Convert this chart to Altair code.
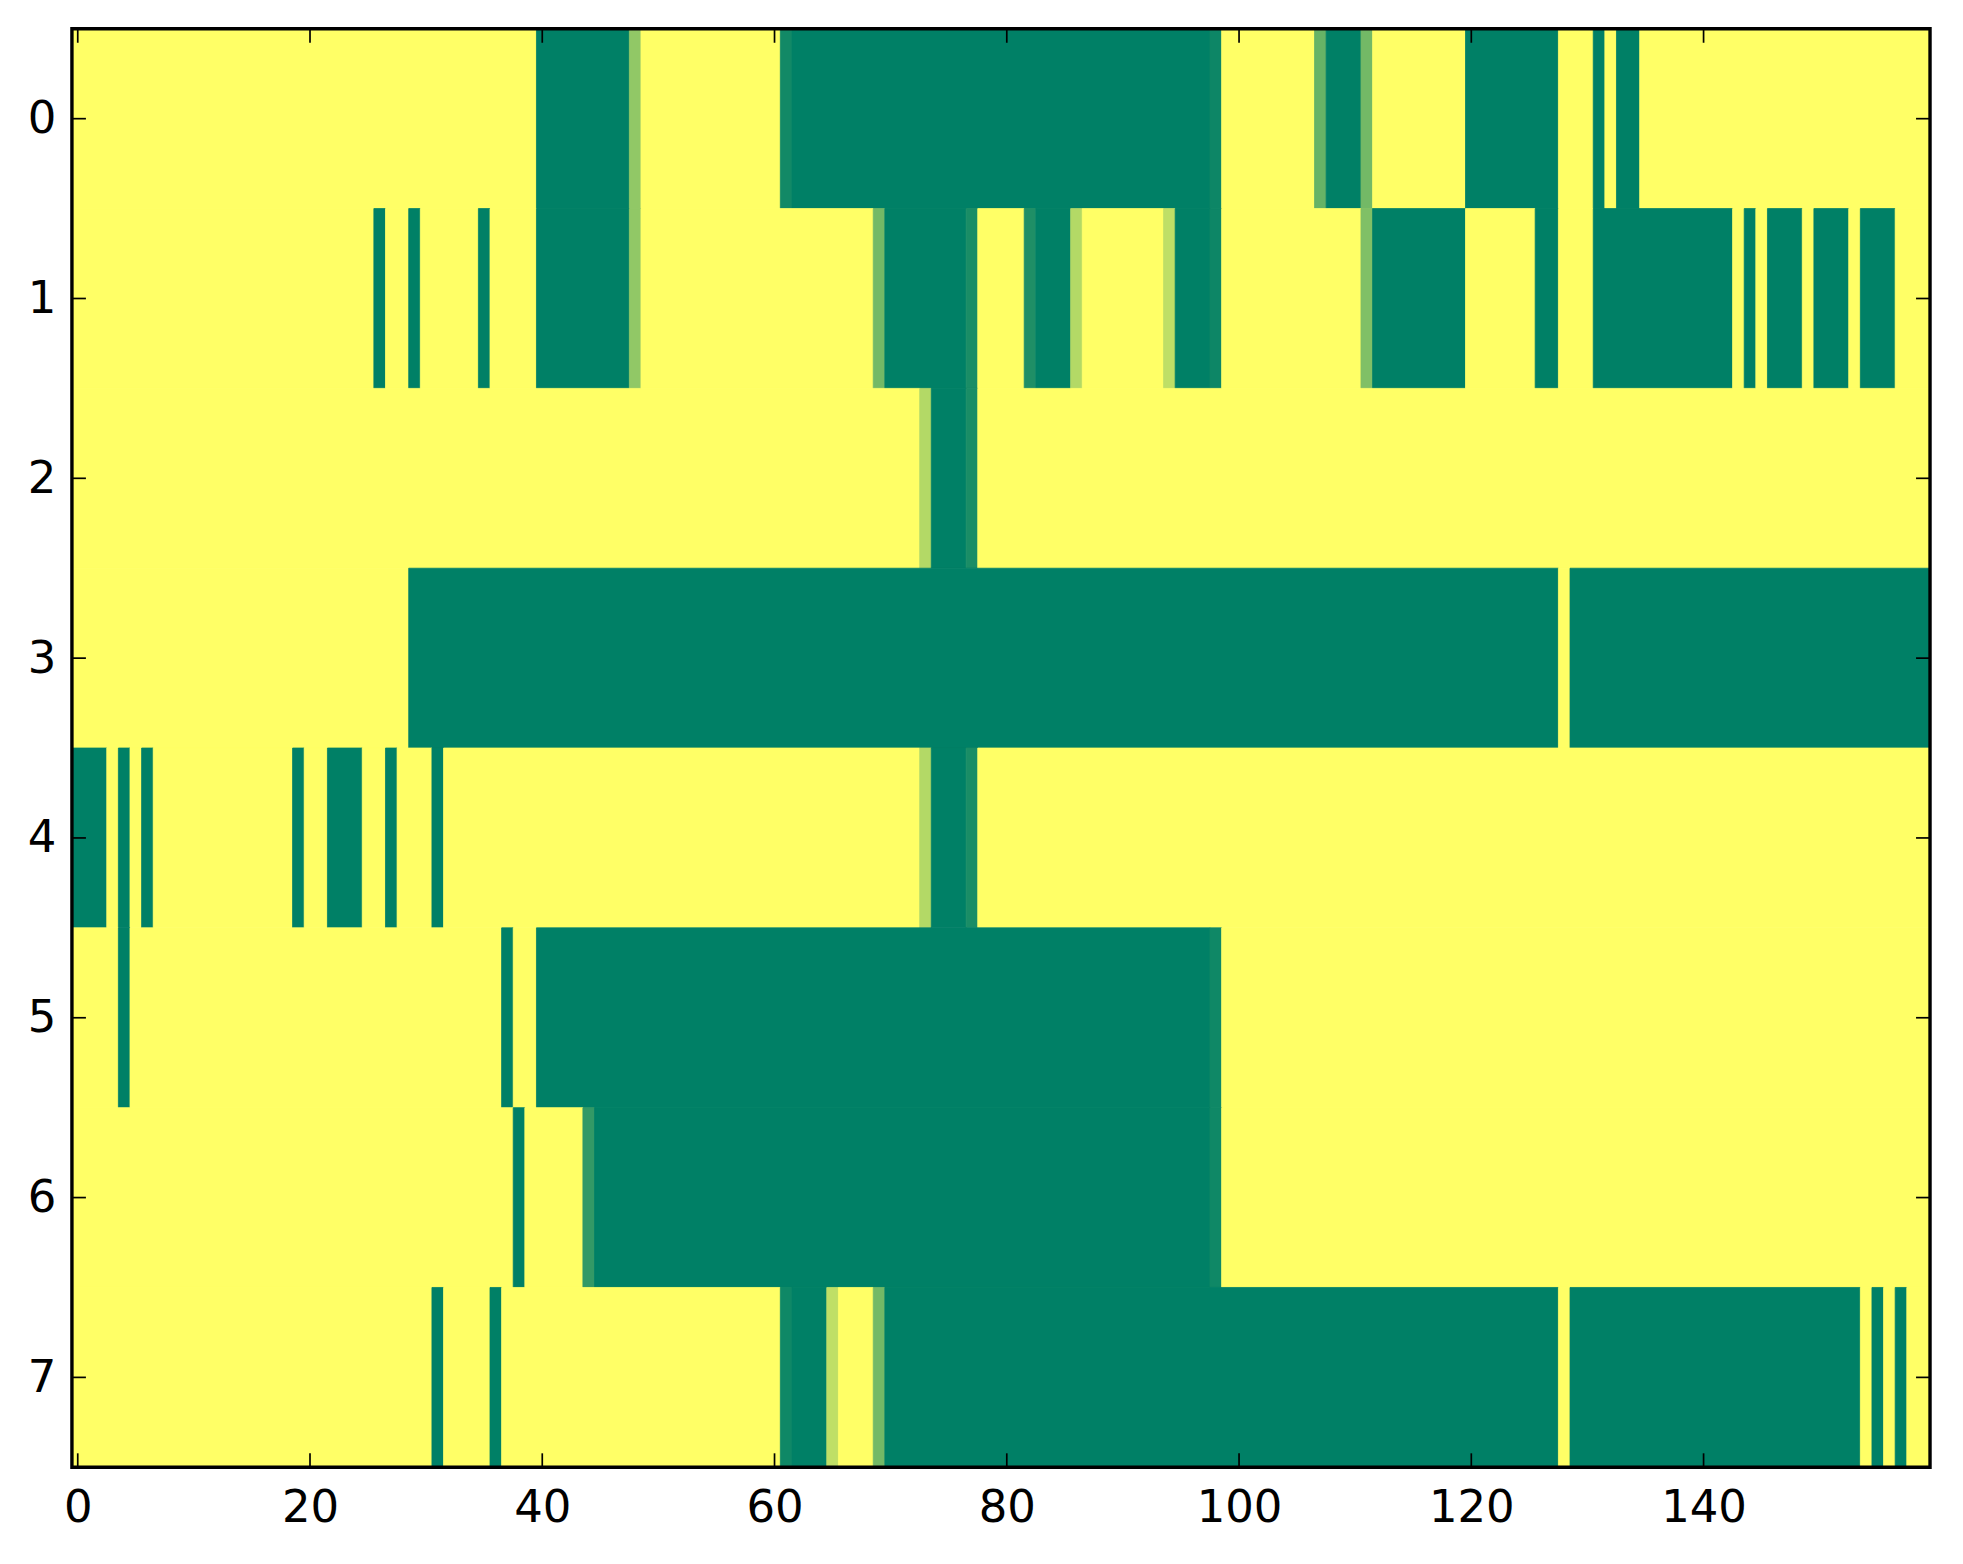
import altair as alt
import pandas as pd

# Each row: list of (start_column, value) runs; a run lasts until the next start.
row0 = [(0, 1), (40, 0), (48, 0.57), (49, 1), (61, 0.07), (62, 0), (98, 0.05), (99, 1), (107, 0.4),
        (108, 0), (111, 0.45), (112, 1), (120, 0), (128, 1), (131, 0), (132, 1), (133, 0), (135, 1)]
row1 = [(0, 1), (26, 0), (27, 1), (29, 0), (30, 1), (35, 0), (36, 1), (40, 0), (48, 0.57), (49, 1),
        (69, 0.45), (70, 0), (77, 0.1), (78, 1), (82, 0.12), (83, 0), (86, 0.7), (87, 1), (94, 0.75),
        (95, 0), (98, 0.05), (99, 1), (111, 0.5), (112, 0), (120, 1), (126, 0), (128, 1), (131, 0),
        (143, 1), (144, 0), (145, 1), (146, 0), (149, 1), (150, 0), (153, 1), (154, 0), (157, 1)]
row2 = [(0, 1), (73, 0.7), (74, 0), (77, 0.1), (78, 1)]
row3 = [(0, 1), (29, 0), (128, 1), (129, 0)]
row4 = [(0, 0), (3, 1), (4, 0), (5, 1), (6, 0), (7, 1), (19, 0), (20, 1), (22, 0), (25, 1), (27, 0),
        (28, 1), (31, 0), (32, 1), (73, 0.7), (74, 0), (77, 0.1), (78, 1)]
row5 = [(0, 1), (4, 0), (5, 1), (37, 0), (38, 1), (40, 0), (98, 0.06), (99, 1)]
row6 = [(0, 1), (38, 0), (39, 1), (44, 0.2), (45, 0), (98, 0.06), (99, 1)]
row7 = [(0, 1), (31, 0), (32, 1), (36, 0), (37, 1), (61, 0.06), (62, 0), (65, 0.75), (66, 1),
        (69, 0.45), (70, 0), (128, 1), (129, 0), (154, 1), (155, 0), (156, 1), (157, 0), (158, 1)]

rows = [row0, row1, row2, row3, row4, row5, row6, row7]
n_cols = 160
x_ticks = [0, 20, 40, 60, 80, 100, 120, 140]
y_ticks = [0, 1, 2, 3, 4, 5, 6, 7]

recs = []
for r, runs in enumerate(rows):
    for i, (start, val) in enumerate(runs):
        end = runs[i + 1][0] if i + 1 < len(runs) else n_cols
        recs.append({"x0": start - 0.5, "x1": end - 0.5, "y0": r - 0.5, "y1": r + 0.5, "v": val})
df = pd.DataFrame(recs)

W, H = 1860, 1440
FONT = "DejaVu Sans"
FS = 45
TL = 14

xscale = alt.Scale(domain=[-0.5, 159.5], nice=False, zero=False)
yscale = alt.Scale(domain=[-0.5, 7.5], nice=False, zero=False, reverse=True)
cscale = alt.Scale(domain=[0, 1], range=["#008066", "#ffff66"], interpolate="rgb")

heat = alt.Chart(df).mark_rect(strokeWidth=0.8).encode(
    x=alt.X("x0:Q", scale=xscale, title=None,
            axis=alt.Axis(values=x_ticks, format="d", tickSize=0, domain=False, grid=False,
                          labelFontSize=FS, labelFont=FONT, labelColor="black",
                          labelPadding=18, labelFlush=False)),
    x2="x1:Q",
    y=alt.Y("y0:Q", scale=yscale, title=None,
            axis=alt.Axis(values=y_ticks, format="d", tickSize=0, domain=False, grid=False,
                          labelFontSize=FS, labelFont=FONT, labelColor="black",
                          labelPadding=16, labelFlush=False)),
    y2="y1:Q",
    color=alt.Color("v:Q", scale=cscale, legend=None),
    stroke=alt.Stroke("v:Q", scale=cscale, legend=None),
)

xt = pd.DataFrame({"t": x_ticks})
yt = pd.DataFrame({"t": y_ticks})

top_ticks = alt.Chart(xt).mark_rule(color="black", strokeWidth=1.7).encode(
    x=alt.X("t:Q", scale=xscale), y=alt.value(0), y2=alt.value(TL))
bot_ticks = alt.Chart(xt).mark_rule(color="black", strokeWidth=1.7).encode(
    x=alt.X("t:Q", scale=xscale), y=alt.value(H - TL), y2=alt.value(H))
left_ticks = alt.Chart(yt).mark_rule(color="black", strokeWidth=1.7).encode(
    y=alt.Y("t:Q", scale=yscale), x=alt.value(0), x2=alt.value(TL))
right_ticks = alt.Chart(yt).mark_rule(color="black", strokeWidth=1.7).encode(
    y=alt.Y("t:Q", scale=yscale), x=alt.value(W - TL), x2=alt.value(W))

frame = alt.Chart(pd.DataFrame({"k": [0]})).mark_rect(
    filled=False, stroke="black", strokeWidth=3.4
).encode(x=alt.value(0), x2=alt.value(W), y=alt.value(0), y2=alt.value(H))

chart = alt.layer(heat, top_ticks, bot_ticks, left_ticks, right_ticks, frame).properties(
    width=W, height=H,
    autosize=alt.AutoSizeParams(type="none"),
    padding={"left": 64, "top": 20, "right": 25, "bottom": 90},
).configure_view(stroke=None).configure(background="white")

chart.save("out.html", embed_options={"renderer": "svg", "actions": False})
